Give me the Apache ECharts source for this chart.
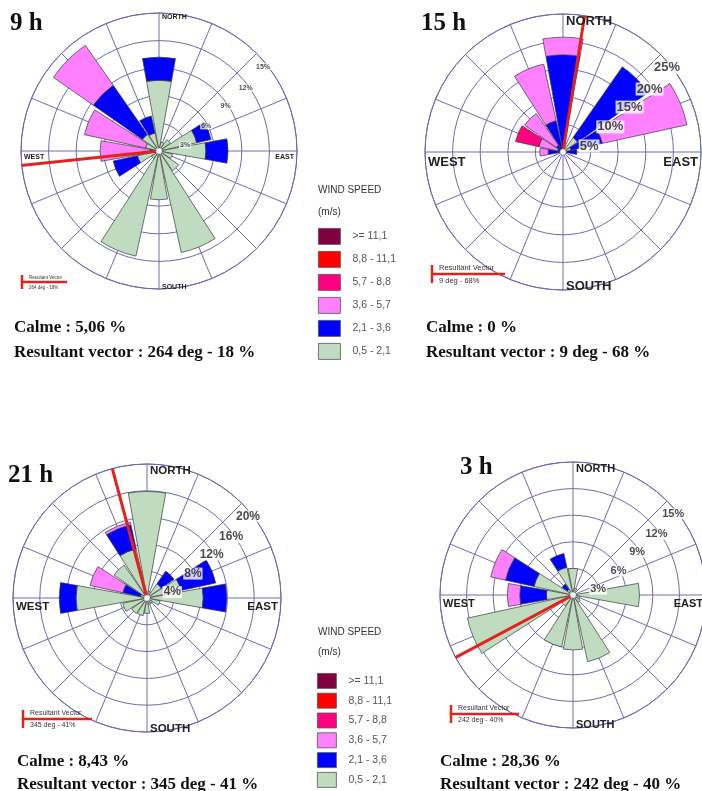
<!DOCTYPE html>
<html>
<head>
<meta charset="utf-8">
<script src="https://cdn.jsdelivr.net/npm/echarts@6/dist/echarts.min.js"></script>
<style>
  html, body { margin: 0; padding: 0; background: #ffffff; }
  #chart { width: 702px; height: 791px; }
</style>
</head>
<body>
<div id="chart"></div>
<script>
// Wind directions (16 sectors, clockwise from north)
const directions = ['N', 'NNE', 'NE', 'ENE', 'E', 'ESE', 'SE', 'SSE', 'S', 'SSW', 'SW', 'WSW', 'W', 'WNW', 'NW', 'NNW'];
// Wind speed classes (m/s), lowest first
const speedClasses = ['0,5 - 2,1', '2,1 - 3,6', '3,6 - 5,7', '5,7 - 8,8', '8,8 - 11,1', '>= 11,1'];

const panelTitles = ['9 h', '15 h', '21 h', '3 h'];
const calmPct = ['5,06', '0', '8,43', '28,36'];
const resultantDeg = [264, 9, 345, 242];
const resultantPct = [18, 68, 41, 40];
const ringStep = [3, 5, 4, 3];
const ringMax = [15, 25, 20, 15];

// Frequency (%) per direction and speed class — 9 h
const h09_c1 = [7.7, 1.0, 1.5, 4.2, 5.1, 1.5, 2.6, 11.3, 5.3, 11.7, 1.0, 2.4, 0.3, 1.5, 2.2, 2.0];
const h09_c2 = [2.5, 0, 0, 1.6, 2.4, 0, 0, 0, 0, 0, 0, 2.7, 0.7, 0, 6.5, 1.9];
const h09_c3 = [0, 0, 0, 0, 0, 0, 0, 0, 0, 0, 0, 0, 5.4, 6.8, 5.3, 0];
const h09_c4 = [0, 0, 0, 0, 0, 0, 0, 0, 0, 0, 0, 0, 0, 0, 0, 0];
const h09_c5 = [0, 0, 0, 0, 0, 0, 0, 0, 0, 0, 0, 0, 0, 0, 0, 0];
const h09_c6 = [0, 0, 0, 0, 0, 0, 0, 0, 0, 0, 0, 0, 0, 0, 0, 0];

// 15 h
const h15_c1 = [0, 0, 3.2, 1.5, 0, 0, 0, 0, 0, 0, 0, 0, 0, 0, 0, 0];
const h15_c2 = [17.6, 0, 15.6, 5.8, 2.5, 0, 0, 0, 0, 0, 0, 0, 2.7, 1.0, 1.5, 5.8];
const h15_c3 = [3.2, 0, 0, 15.7, 0, 0, 0, 0, 0, 0, 0, 0, 1.5, 3.5, 7.0, 10.5];
const h15_c4 = [0, 0, 0, 0, 0, 0, 0, 0, 0, 0, 0, 0, 0, 4.3, 0, 0];
const h15_c5 = [0, 0, 0, 0, 0, 0, 0, 0, 0, 0, 0, 0, 0, 0, 0, 0];
const h15_c6 = [0, 0, 0, 0, 0, 0, 0, 0, 0, 0, 0, 0, 0, 0, 0, 0];

// 21 h
const h21_c1 = [15.9, 1.0, 2.6, 5.2, 8.4, 2.0, 1.0, 1.0, 2.3, 2.7, 2.8, 3.7, 10.6, 1.0, 6.0, 7.5];
const h21_c2 = [0, 0, 2.3, 5.3, 3.5, 0, 0, 0, 0, 0, 0, 0, 2.5, 2.7, 0, 3.7];
const h21_c3 = [0, 0, 0, 0, 0, 0, 0, 0, 0, 0, 0, 0, 0, 5.0, 0, 0.4];
const h21_c4 = [0, 0, 0, 0, 0, 0, 0, 0, 0, 0, 0, 0, 0, 0, 0, 0];
const h21_c5 = [0, 0, 0, 0, 0, 0, 0, 0, 0, 0, 0, 0, 0, 0, 0, 0];
const h21_c6 = [0, 0, 0, 0, 0, 0, 0, 0, 0, 0, 0, 0, 0, 0, 0, 0];

// 3 h
const h03_c1 = [3.0, 0.8, 0, 0, 7.5, 0.8, 1.0, 7.7, 6.2, 6.0, 1.5, 12.2, 3.0, 4.5, 0.8, 3.2];
const h03_c2 = [0, 0, 0, 0, 0, 0, 0, 0, 0, 0, 0, 0, 3.0, 3.3, 0.7, 1.6];
const h03_c3 = [0, 0, 0, 0, 0, 0, 0, 0, 0, 0, 0, 0, 1.4, 1.7, 0, 0];
const h03_c4 = [0, 0, 0, 0, 0, 0, 0, 0, 0, 0, 0, 0, 0, 0, 0, 0];
const h03_c5 = [0, 0, 0, 0, 0, 0, 0, 0, 0, 0, 0, 0, 0, 0, 0, 0];
const h03_c6 = [0, 0, 0, 0, 0, 0, 0, 0, 0, 0, 0, 0, 0, 0, 0, 0];

const panelData = [
  [h09_c1, h09_c2, h09_c3, h09_c4, h09_c5, h09_c6],
  [h15_c1, h15_c2, h15_c3, h15_c4, h15_c5, h15_c6],
  [h21_c1, h21_c2, h21_c3, h21_c4, h21_c5, h21_c6],
  [h03_c1, h03_c2, h03_c3, h03_c4, h03_c5, h03_c6]
];

// ---- styling / layout ----
const classColors = ['#c0dcc0', '#0000ff', '#ff80ff', '#ff0080', '#ff0000', '#800040'];
const gridColor = '#6c6cae';
const vectorColor = '#e3221c';
const SERIF = '"Liberation Serif", "DejaVu Serif", serif';
const SANS = '"Liberation Sans", Arial, sans-serif';
// bearing (deg) at which each ring's percentage label sits
const ringLabelBearing = [77, 62, 56, 54, 51];

const layout = [
  { cx: 159, cy: 151, r: 138, dirFont: 7, ringFont: 7, reach: 1.01,
    titleX: 10, titleY: 24, textX: 14, calmY: 328, resY: 353,
    mini: { x: 22, y: 282, len: 45, h: 14, font: 4.5 } },
  { cx: 563, cy: 152, r: 138, dirFont: 13, ringFont: 13, reach: 1.0,
    titleX: 421, titleY: 24, textX: 426, calmY: 328, resY: 353,
    mini: { x: 432, y: 274, len: 73, h: 18, font: 7.5 } },
  { cx: 147, cy: 598, r: 134, dirFont: 11.5, ringFont: 12, reach: 1.045,
    titleX: 8, titleY: 476, textX: 17, calmY: 762, resY: 785,
    mini: { x: 23, y: 719, len: 69, h: 18, font: 7 } },
  { cx: 573, cy: 595, r: 133, dirFont: 11, ringFont: 11, reach: 1.11,
    titleX: 460, titleY: 468, textX: 440, calmY: 762, resY: 785,
    mini: { x: 451, y: 714, len: 68, h: 18, font: 7 } }
];

const polar = [];
const angleAxis = [];
const radiusAxis = [];
const series = [];
const graphic = [];

layout.forEach((L, i) => {
  // grid polar (spokes + rings) at index i, bar polar at index 4 + i
  polar[i] = { center: [L.cx, L.cy], radius: L.r };
  polar[4 + i] = { center: [L.cx, L.cy], radius: L.r };

  angleAxis[i] = {
    polarIndex: i, type: 'value', min: 0, max: 360, interval: 22.5,
    startAngle: 90, clockwise: true,
    axisLine: { show: true, lineStyle: { color: gridColor, width: 1 } },
    axisTick: { show: false }, axisLabel: { show: false },
    splitLine: { show: true, lineStyle: { color: gridColor, width: 1 } }
  };
  radiusAxis[i] = {
    polarIndex: i, type: 'value', min: 0, max: ringMax[i], interval: ringStep[i],
    axisLine: { show: false }, axisTick: { show: false }, axisLabel: { show: false },
    splitLine: { show: true, lineStyle: { color: gridColor, width: 1 } }
  };
  angleAxis[4 + i] = {
    polarIndex: 4 + i, type: 'category', data: directions, boundaryGap: true,
    startAngle: 90 + 360 / directions.length / 2, clockwise: true,
    axisLine: { show: false }, axisTick: { show: false }, axisLabel: { show: false },
    splitLine: { show: false }
  };
  radiusAxis[4 + i] = {
    polarIndex: 4 + i, type: 'value', min: 0, max: ringMax[i],
    axisLine: { show: false }, axisTick: { show: false }, axisLabel: { show: false },
    splitLine: { show: false }
  };

  // stacked wind-rose sectors
  panelData[i].forEach((vals, k) => {
    series.push({
      type: 'bar', coordinateSystem: 'polar', polarIndex: 4 + i,
      name: speedClasses[k], stack: 'rose' + i,
      barCategoryGap: '10%',
      data: vals.map(v => (v > 0 ? v : null)),
      itemStyle: { color: classColors[k], borderColor: '#3a3a3a', borderWidth: 0.7 },
      emphasis: { disabled: true },
      z: 3
    });
  });

  // resultant vector
  series.push({
    type: 'line', coordinateSystem: 'polar', polarIndex: i,
    data: [[0, resultantDeg[i]], [ringMax[i] * L.reach, resultantDeg[i]]],
    symbol: 'none', clip: false, silent: true,
    lineStyle: { color: vectorColor, width: 3 },
    z: 6
  });

  // ring percentage labels
  const ringLabels = [];
  for (let k = 1; k * ringStep[i] <= ringMax[i]; k++) {
    ringLabels.push({ value: [k * ringStep[i] * 0.97, ringLabelBearing[k - 1]], name: (k * ringStep[i]) + '%' });
  }
  series.push({
    type: 'scatter', coordinateSystem: 'polar', polarIndex: i,
    data: ringLabels, symbolSize: 0.1, silent: true, z: 7,
    label: {
      show: true, position: 'inside', formatter: '{b}',
      fontFamily: SANS, fontWeight: 'bold', fontSize: L.ringFont, color: '#1a1a1a',
      backgroundColor: '#ffffff', padding: [0, 1, 0, 1]
    }
  });

  // compass labels
  const ds = { fontFamily: SANS, fontWeight: 'bold', fontSize: L.dirFont, fill: '#222222' };
  graphic.push(
    { type: 'text', x: L.cx + 3, y: L.cy - L.r + L.dirFont * 0.6, z: 50,
      style: Object.assign({ text: 'NORTH', textAlign: 'left', textVerticalAlign: 'middle' }, ds) },
    { type: 'text', x: L.cx + 3, y: L.cy + L.r - L.dirFont * 0.3, z: 50,
      style: Object.assign({ text: 'SOUTH', textAlign: 'left', textVerticalAlign: 'middle' }, ds) },
    { type: 'text', x: L.cx - L.r + 3, y: L.cy + L.dirFont * 0.8, z: 50,
      style: Object.assign({ text: 'WEST', textAlign: 'left', textVerticalAlign: 'middle' }, ds) },
    { type: 'text', x: L.cx + L.r - 3, y: L.cy + L.dirFont * 0.8, z: 50,
      style: Object.assign({ text: 'EAST', textAlign: 'right', textVerticalAlign: 'middle' }, ds) }
  );

  // centre hole
  graphic.push({ type: 'circle', shape: { cx: L.cx, cy: L.cy, r: 3 }, z: 60,
    style: { fill: '#ffffff', stroke: '#999999', lineWidth: 0.5 } });

  // panel title
  graphic.push({ type: 'text', x: L.titleX, y: L.titleY, z: 50,
    style: { text: panelTitles[i], fontFamily: SERIF, fontWeight: 'bold', fontSize: 25, fill: '#111111',
      textAlign: 'left', textVerticalAlign: 'middle' } });

  // calm and resultant statements
  graphic.push(
    { type: 'text', x: L.textX, y: L.calmY, z: 50,
      style: { text: 'Calme : ' + calmPct[i] + ' %', fontFamily: SERIF, fontWeight: 'bold', fontSize: 17,
        fill: '#111111', textAlign: 'left', textVerticalAlign: 'middle' } },
    { type: 'text', x: L.textX, y: L.resY, z: 50,
      style: { text: 'Resultant vector : ' + resultantDeg[i] + ' deg - ' + resultantPct[i] + ' %',
        fontFamily: SERIF, fontWeight: 'bold', fontSize: 17, fill: '#111111',
        textAlign: 'left', textVerticalAlign: 'middle' } }
  );

  // small resultant-vector key
  const m = L.mini;
  graphic.push(
    { type: 'line', z: 50, shape: { x1: m.x, y1: m.y, x2: m.x + m.len, y2: m.y },
      style: { stroke: vectorColor, lineWidth: 2.5 } },
    { type: 'line', z: 50, shape: { x1: m.x, y1: m.y - m.h / 2, x2: m.x, y2: m.y + m.h / 2 },
      style: { stroke: vectorColor, lineWidth: 2.5 } },
    { type: 'text', x: m.x + 7, y: m.y - 2, z: 50,
      style: { text: 'Resultant Vector', fontFamily: SANS, fontSize: m.font, fill: '#333333',
        textAlign: 'left', textVerticalAlign: 'bottom' } },
    { type: 'text', x: m.x + 7, y: m.y + 3, z: 50,
      style: { text: resultantDeg[i] + ' deg - ' + resultantPct[i] + '%', fontFamily: SANS, fontSize: m.font,
        fill: '#333333', textAlign: 'left', textVerticalAlign: 'top' } }
  );
});

// legend headings
[[190, 212], [632, 652]].forEach(([y1, y2]) => {
  graphic.push(
    { type: 'text', x: 318, y: y1, z: 50,
      style: { text: 'WIND SPEED', fontFamily: SANS, fontSize: 10, fill: '#333333',
        textAlign: 'left', textVerticalAlign: 'middle' } },
    { type: 'text', x: 318, y: y2, z: 50,
      style: { text: '(m/s)', fontFamily: SANS, fontSize: 10, fill: '#333333',
        textAlign: 'left', textVerticalAlign: 'middle' } }
  );
});

const legendOrder = speedClasses.slice().reverse();
const legendBase = {
  orient: 'vertical', icon: 'rect', selectedMode: false, data: legendOrder, padding: 0,
  itemStyle: { borderColor: '#555555', borderWidth: 0.8 },
  textStyle: { fontFamily: SANS, fontSize: 10.5, color: '#555555', padding: [0, 0, 0, 7] }
};

const option = {
  animation: false,
  backgroundColor: '#ffffff',
  polar: polar,
  angleAxis: angleAxis,
  radiusAxis: radiusAxis,
  legend: [
    Object.assign({}, legendBase, { left: 318, top: 228, itemWidth: 22, itemHeight: 16, itemGap: 6.2 }),
    Object.assign({}, legendBase, { left: 317, top: 673, height: 118, itemWidth: 19, itemHeight: 15, itemGap: 4.0 })
  ],
  series: series,
  graphic: graphic
};

const chart = echarts.init(document.getElementById('chart'), null, { renderer: 'canvas' });
chart.setOption(option);
</script>
</body>
</html>
